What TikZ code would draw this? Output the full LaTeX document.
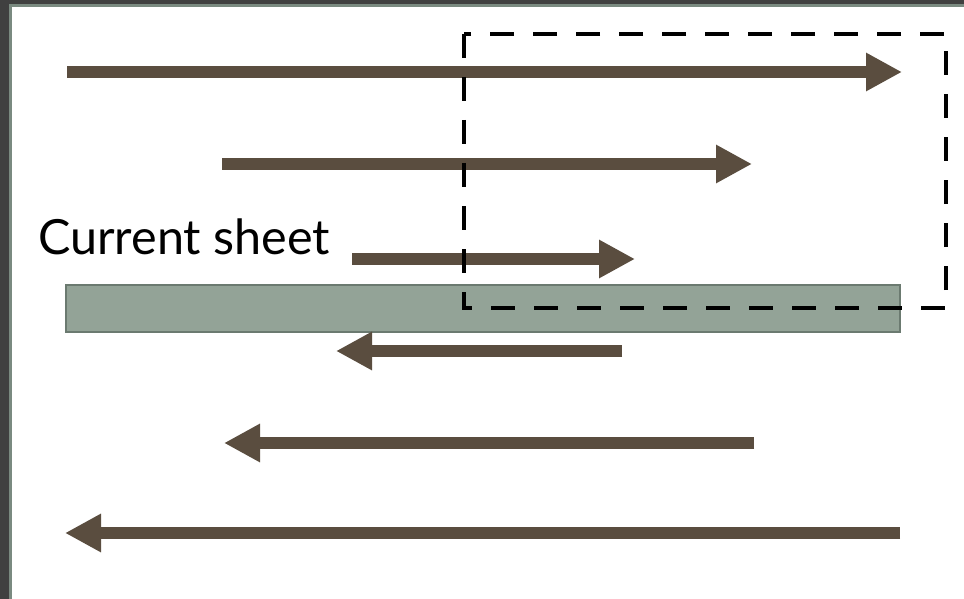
\documentclass[tikz,border=0pt]{standalone}
\usepackage{fontspec}
\setmainfont{Lato}
\usetikzlibrary{arrows.meta}
\definecolor{arrowbrown}{HTML}{5A4D3F}
\definecolor{sheetfill}{HTML}{93A397}
\definecolor{sheetedge}{HTML}{6B7A70}
\definecolor{framedark}{HTML}{404040}
\definecolor{frameline}{HTML}{7A8A80}
\tikzset{
  fieldarrow/.style={draw=arrowbrown, line width=12pt,
    -{Triangle[length=36pt,width=36pt]}, arrowbrown},
  sheetbox/.style={fill=sheetfill, draw=sheetedge, line width=2.5pt},
  zonebox/.style={draw=black, line width=4pt, dash pattern=on 24pt off 19pt},
}
\begin{document}
\begin{tikzpicture}[x=1pt,y=-1pt]
\useasboundingbox (0,0) rectangle (964,599);
\fill[framedark] (0,0) rectangle (964,599);
\fill[frameline] (9,4) rectangle (964,599);
\fill[white] (12,7) rectangle (964,599);
% current sheet
\node[sheetbox, minimum width=834pt, minimum height=47pt, inner sep=0pt, anchor=north west] (sheet) at (64.5,283.5) {};
% field lines
\coordinate (a1s) at (67,72);  \coordinate (a1e) at (902,72);
\coordinate (a2s) at (222,164); \coordinate (a2e) at (752,164);
\coordinate (a3s) at (352,259); \coordinate (a3e) at (635,259);
\coordinate (a4s) at (622,351); \coordinate (a4e) at (336,351);
\coordinate (a5s) at (754,443); \coordinate (a5e) at (224,443);
\coordinate (a6s) at (900,533); \coordinate (a6e) at (65,533);
\draw[fieldarrow] (a1s) -- (a1e);
\draw[fieldarrow] (a2s) -- (a2e);
\draw[fieldarrow] (a3s) -- (a3e);
\draw[fieldarrow] (a4s) -- (a4e);
\draw[fieldarrow] (a5s) -- (a5e);
\draw[fieldarrow] (a6s) -- (a6e);
% dashed zone
\coordinate (z1) at (464,34); \coordinate (z2) at (946,308);
\draw[zonebox] (z1) rectangle (z2);
% label
\node[anchor=base west, inner sep=0pt, font=\fontsize{48.5}{58}\selectfont] (lbl) at (38,254) {Current sheet};
\end{tikzpicture}
\end{document}
